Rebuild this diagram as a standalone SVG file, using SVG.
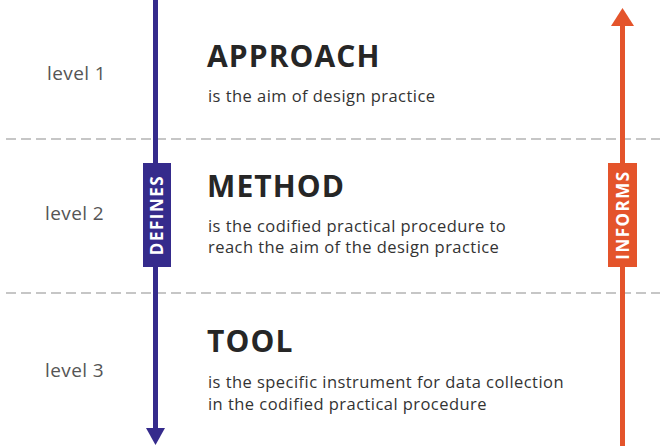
<svg xmlns="http://www.w3.org/2000/svg" width="660" height="446" viewBox="0 0 660 446">
<style>
.lvl{font-family:"Open Sans","Liberation Sans",sans-serif;font-size:19px;fill:#555;letter-spacing:0.4px}
.ttl{font-family:"Open Sans","Liberation Sans",sans-serif;font-size:30px;font-weight:bold;fill:#262626;letter-spacing:1.1px}
.sub{font-family:"Open Sans","Liberation Sans",sans-serif;font-size:16.5px;fill:#333;letter-spacing:0.45px}
.tag{font-family:"Open Sans","Liberation Sans",sans-serif;font-size:17px;font-weight:bold;fill:#fff;letter-spacing:1.5px}
.dash{stroke:#b4b4b4;stroke-width:1.5;stroke-dasharray:10 5;fill:none}
</style>
<rect width="660" height="446" fill="#fff"/>
<g id="separators">
<line class="dash" x1="6" y1="139" x2="660" y2="139"/>
<line class="dash" x1="6" y1="293" x2="660" y2="293"/>
</g>
<g id="level1">
<text class="lvl" x="47" y="80">level 1</text>
<text class="ttl" x="207" y="67">APPROACH</text>
<text class="sub" x="208" y="102">is the aim of design practice</text>
</g>
<g id="level2">
<text class="lvl" x="45" y="220">level 2</text>
<text class="ttl" x="207" y="197">METHOD</text>
<text class="sub" x="208" y="232">is the codified practical procedure to</text>
<text class="sub" x="208" y="253">reach the aim of the design practice</text>
</g>
<g id="level3">
<text class="lvl" x="45" y="377">level 3</text>
<text class="ttl" x="207" y="352">TOOL</text>
<text class="sub" x="208" y="388">is the specific instrument for data collection</text>
<text class="sub" x="208" y="410">in the codified practical procedure</text>
</g>
<g id="connectors">
<line x1="155.5" y1="0" x2="155.5" y2="430" stroke="#352b8c" stroke-width="5"/>
<polygon points="146,428 165,428 155.5,445" fill="#352b8c"/>
<line x1="622.5" y1="24" x2="622.5" y2="446" stroke="#e4542b" stroke-width="5"/>
<polygon points="611,26 634,26 622.5,8" fill="#e4542b"/>
</g>
<g id="defines">
<rect x="143" y="163" width="28" height="104" fill="#352b8c"/>
<text class="tag" transform="translate(163,215) rotate(-90)" text-anchor="middle">DEFINES</text>
</g>
<g id="informs">
<rect x="608" y="163" width="29" height="104" fill="#e4542b"/>
<text class="tag" transform="translate(628.5,215) rotate(-90)" text-anchor="middle">INFORMS</text>
</g>
</svg>
